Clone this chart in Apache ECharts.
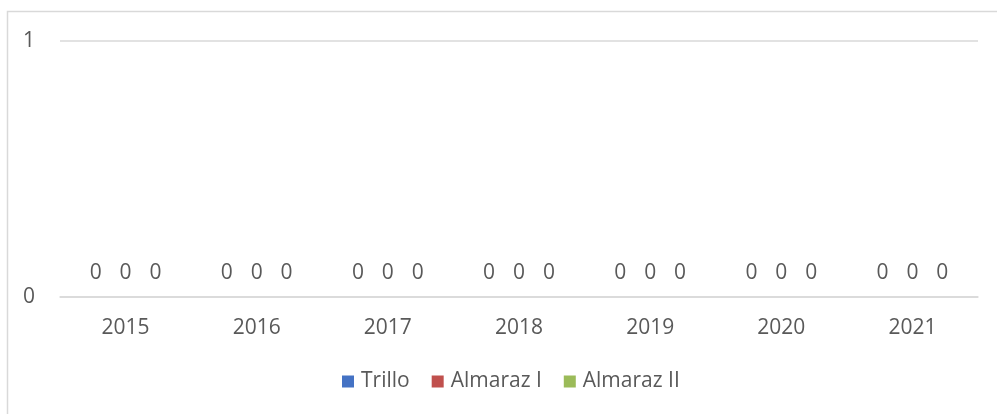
<!DOCTYPE html>
<html>
<head>
<meta charset="utf-8">
<script src="https://cdn.jsdelivr.net/npm/echarts@6/dist/echarts.min.js"></script>
<style>
  html, body { margin: 0; padding: 0; background: #fff; }
  #chart { width: 997px; height: 414px; }
</style>
</head>
<body>
<div id="chart"></div>
<script>
var years = ['2015', '2016', '2017', '2018', '2019', '2020', '2021']
var trillo = [0, 0, 0, 0, 0, 0, 0]
var almarazI = [0, 0, 0, 0, 0, 0, 0]
var almarazII = [0, 0, 0, 0, 0, 0, 0]
var seriesNames = ['Trillo', 'Almaraz I', 'Almaraz II']
var seriesColors = ['#4472c4', '#c0504d', '#9bbb59']

var chart = echarts.init(document.getElementById('chart'))
var font = '"Open Sans", "Liberation Sans", sans-serif'

function makeSeries(name, data, color) {
  return {
    name: name,
    type: 'bar',
    data: data,
    barWidth: 26,
    barGap: '15%',
    itemStyle: { color: color },
    label: {
      show: true,
      position: 'top',
      distance: 13,
      color: '#595959',
      fontSize: 21,
      fontFamily: font
    }
  }
}

chart.setOption({
  animation: false,
  textStyle: { fontFamily: font },
  graphic: [{
    type: 'rect',
    shape: { x: 7.5, y: 11.5, width: 1000, height: 420 },
    style: { fill: 'none', stroke: '#d9d9d9', lineWidth: 1.5 }
  }],
  grid: { left: 60, right: 19, top: 41, bottom: 117 },
  legend: {
    data: seriesNames,
    top: 371,
    left: 342,
    padding: 0,
    itemWidth: 12,
    itemHeight: 12,
    itemGap: 22,
    icon: 'rect',
    textStyle: { color: '#595959', fontSize: 21, fontFamily: font, padding: [0, 0, 0, 2] }
  },
  xAxis: {
    type: 'category',
    data: years,
    axisTick: { show: false },
    axisLine: { show: true, lineStyle: { color: '#d9d9d9', width: 1.5 } },
    axisLabel: { color: '#595959', fontSize: 21, margin: 21, fontFamily: font }
  },
  yAxis: {
    type: 'value',
    min: 0,
    max: 1,
    interval: 1,
    axisLine: { show: false },
    axisTick: { show: false },
    axisLabel: { color: '#595959', fontSize: 21, margin: 25, fontFamily: font },
    splitLine: { lineStyle: { color: '#d9d9d9', width: 1.5 } }
  },
  series: [
    makeSeries(seriesNames[0], trillo, seriesColors[0]),
    makeSeries(seriesNames[1], almarazI, seriesColors[1]),
    makeSeries(seriesNames[2], almarazII, seriesColors[2])
  ]
})
</script>
</body>
</html>
